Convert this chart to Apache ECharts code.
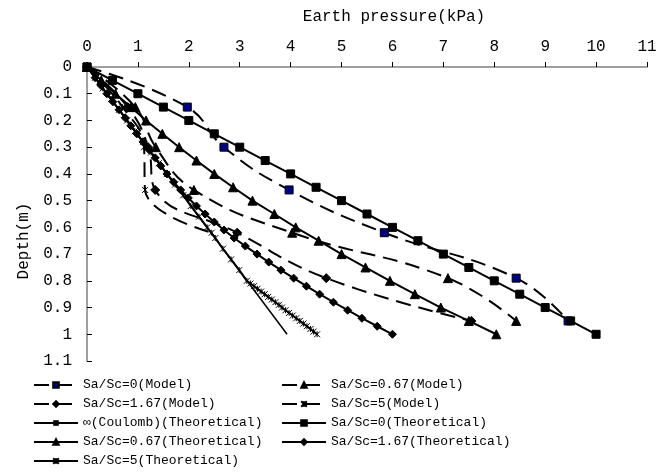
<!DOCTYPE html>
<html>
<head>
<meta charset="utf-8">
<script src="https://cdn.jsdelivr.net/npm/echarts@6/dist/echarts.min.js"></script>
<style>
  html, body { margin: 0; padding: 0; background: #fff; }
  #chart { width: 668px; height: 472px; }
</style>
</head>
<body>
<div id="chart"></div>
<script>
// 数据：深度(m) 与 土压力(kPa)
const modelDepth = [0, 0.15, 0.3, 0.46, 0.62, 0.79, 0.95];
const model0 = [0, 1.97, 2.69, 3.97, 5.84, 8.43, 9.45];
const model067 = [0, 0.95, 1.35, 2.1, 4.03, 7.09, 8.43];
const model167 = [0, 0.8, 1.2, 1.34, 2.95, 4.7, 7.55];
const model5Depth = [0, 0.15, 0.3, 0.46, 0.62];
const model5 = [0, 0.7, 1.12, 1.14, 2.45];

const coulombDepth = [0, 1.0];
const coulomb = [0, 3.93];

const theo0Depth = [0, 0.05, 0.1, 0.15, 0.2, 0.25, 0.3, 0.35, 0.4, 0.45, 0.5, 0.55, 0.6, 0.65, 0.7, 0.75, 0.8, 0.85, 0.9, 0.95, 1.0];
const theo0 = [0, 0.5, 1.0, 1.5, 2.0, 2.5, 3.0, 3.5, 4.0, 4.5, 5.0, 5.5, 6.0, 6.5, 7.0, 7.5, 8.0, 8.5, 9.0, 9.5, 10.0];
const theo067 = [0, 0.28, 0.56, 0.86, 1.16, 1.48, 1.81, 2.15, 2.5, 2.87, 3.25, 3.68, 4.1, 4.55, 5.0, 5.47, 5.95, 6.44, 6.95, 7.5, 8.04];

const theo167Depth = [0, 0.04, 0.07, 0.10, 0.13, 0.16, 0.19, 0.22, 0.25, 0.28, 0.31, 0.34, 0.37, 0.40, 0.43, 0.46, 0.49,
  0.52, 0.55, 0.58, 0.61, 0.64, 0.67, 0.70, 0.73, 0.76, 0.79, 0.82, 0.85, 0.88, 0.91, 0.94, 0.97, 1.00];
const theo167 = [0, 0.16, 0.28, 0.39, 0.51, 0.63, 0.75, 0.86, 0.98, 1.10, 1.22, 1.34, 1.45, 1.57, 1.70, 1.84, 1.99,
  2.15, 2.32, 2.50, 2.69, 2.89, 3.11, 3.34, 3.57, 3.81, 4.06, 4.31, 4.57, 4.84, 5.12, 5.40, 5.70, 6.0];

const theo5Depth = [0, 0.04, 0.08, 0.12, 0.16, 0.2, 0.24, 0.28, 0.32, 0.36, 0.4, 0.44, 0.48, 0.52, 0.56, 0.6, 0.64, 0.68, 0.72, 0.76, 0.8,
  0.81, 0.82, 0.83, 0.84, 0.85, 0.86, 0.87, 0.88, 0.89, 0.9, 0.91, 0.92, 0.93, 0.94, 0.95, 0.96, 0.97, 0.98, 0.99, 1.0];
const theo5 = [0, 0.16, 0.31, 0.47, 0.63, 0.79, 0.94, 1.1, 1.26, 1.41, 1.57, 1.73, 1.89, 2.04, 2.2, 2.36, 2.52, 2.67, 2.83, 2.99, 3.14,
  3.21, 3.28, 3.35, 3.42, 3.49, 3.56, 3.63, 3.70, 3.77, 3.83, 3.90, 3.97, 4.04, 4.11, 4.18, 4.25, 4.32, 4.39, 4.45, 4.52];

const FONT = 'Liberation Mono';
const ASTERISK = 'path://M0,0L10,10M10,0L0,10M5,0L5,10';
const FLAT = 'path://M0,0L10,0L10,1L0,1Z';

function pairs(xs, ds) {
  return xs.map((x, i) => [x, ds[i]]);
}

function modelSeries(name, xs, ds, symbol, size, fill) {
  return {
    name: name,
    type: 'line',
    data: pairs(xs, ds),
    smooth: 0.45,
    symbol: symbol,
    symbolSize: size,
    lineStyle: { color: '#000', width: 2, type: [15, 8] },
    itemStyle: { color: fill || '#000', borderColor: '#000', borderWidth: 1 }
  };
}

function theoSeries(name, xs, ds, symbol, size) {
  return {
    name: name,
    type: 'line',
    data: pairs(xs, ds),
    symbol: symbol,
    symbolSize: size,
    showAllSymbol: true,
    lineStyle: { color: '#000', width: 2 },
    itemStyle: { color: '#000', borderColor: '#000', borderWidth: 1 }
  };
}

const N = {
  m0: 'Sa/Sc=0(Model)',
  m067: 'Sa/Sc=0.67(Model)',
  m167: 'Sa/Sc=1.67(Model)',
  m5: 'Sa/Sc=5(Model)',
  c: '∞(Coulomb)(Theoretical)',
  t0: 'Sa/Sc=0(Theoretical)',
  t067: 'Sa/Sc=0.67(Theoretical)',
  t167: 'Sa/Sc=1.67(Theoretical)',
  t5: 'Sa/Sc=5(Theoretical)'
};

const series = [
  modelSeries(N.m0, model0, modelDepth, 'rect', 8, '#000080'),
  modelSeries(N.m067, model067, modelDepth, 'triangle', 9),
  modelSeries(N.m167, model167, modelDepth, 'diamond', 9),
  modelSeries(N.m5, model5, model5Depth, ASTERISK, 6),
  {
    name: N.c,
    type: 'line',
    data: pairs(coulomb, coulombDepth),
    symbol: FLAT,
    symbolKeepAspect: true,
    showSymbol: false,
    lineStyle: { color: '#000', width: 1.5 },
    itemStyle: { color: '#000', borderWidth: 0 }
  },
  theoSeries(N.t0, theo0, theo0Depth, 'rect', 8),
  theoSeries(N.t067, theo067, theo0Depth, 'triangle', 9),
  theoSeries(N.t167, theo167, theo167Depth, 'diamond', 8),
  theoSeries(N.t5, theo5, theo5Depth, ASTERISK, 6)
];

const legendBase = {
  orient: 'vertical',
  itemWidth: 44,
  itemHeight: 7,
  itemGap: 5,
  padding: 0,
  textStyle: { fontFamily: FONT, fontSize: 13, color: '#000', lineHeight: 14 }
};

const chart = echarts.init(document.getElementById('chart'));
chart.setOption({
  animation: false,
  backgroundColor: '#fff',
  grid: { left: 87, top: 67, width: 560, height: 294, containLabel: false },
  xAxis: {
    type: 'value',
    position: 'top',
    min: 0, max: 11, interval: 1,
    name: 'Earth pressure(kPa)',
    nameLocation: 'middle',
    nameGap: 42,
    nameTextStyle: { fontFamily: FONT, fontSize: 16, color: '#000', padding: [0, 0, 0, 54] },
    axisLine: { lineStyle: { color: '#808080', width: 1.5 } },
    axisTick: { length: 5, lineStyle: { color: '#000' } },
    axisLabel: { margin: 12, fontFamily: FONT, fontSize: 16, color: '#000' },
    splitLine: { show: false }
  },
  yAxis: {
    type: 'value',
    inverse: true,
    min: 0, max: 1.1, interval: 0.1,
    name: 'Depth(m)',
    nameLocation: 'middle',
    nameRotate: 90,
    nameGap: 55,
    nameTextStyle: { fontFamily: FONT, fontSize: 16, color: '#000', padding: [0, 54, 0, 0] },
    axisLine: { lineStyle: { color: '#808080', width: 1.5 } },
    axisTick: { inside: true, length: 5, lineStyle: { color: '#000' } },
    axisLabel: {
      margin: 15, fontFamily: FONT, fontSize: 16, color: '#000',
      formatter: v => String(parseFloat(v.toFixed(1)))
    },
    splitLine: { show: false }
  },
  legend: [
    Object.assign({}, legendBase, { left: 33, top: 378, data: [N.m0, N.m167, N.c, N.t067, N.t5] }),
    Object.assign({}, legendBase, { left: 281, top: 378, data: [N.m067, N.m5, N.t0, N.t167] })
  ],
  series: series
});
</script>
</body>
</html>
